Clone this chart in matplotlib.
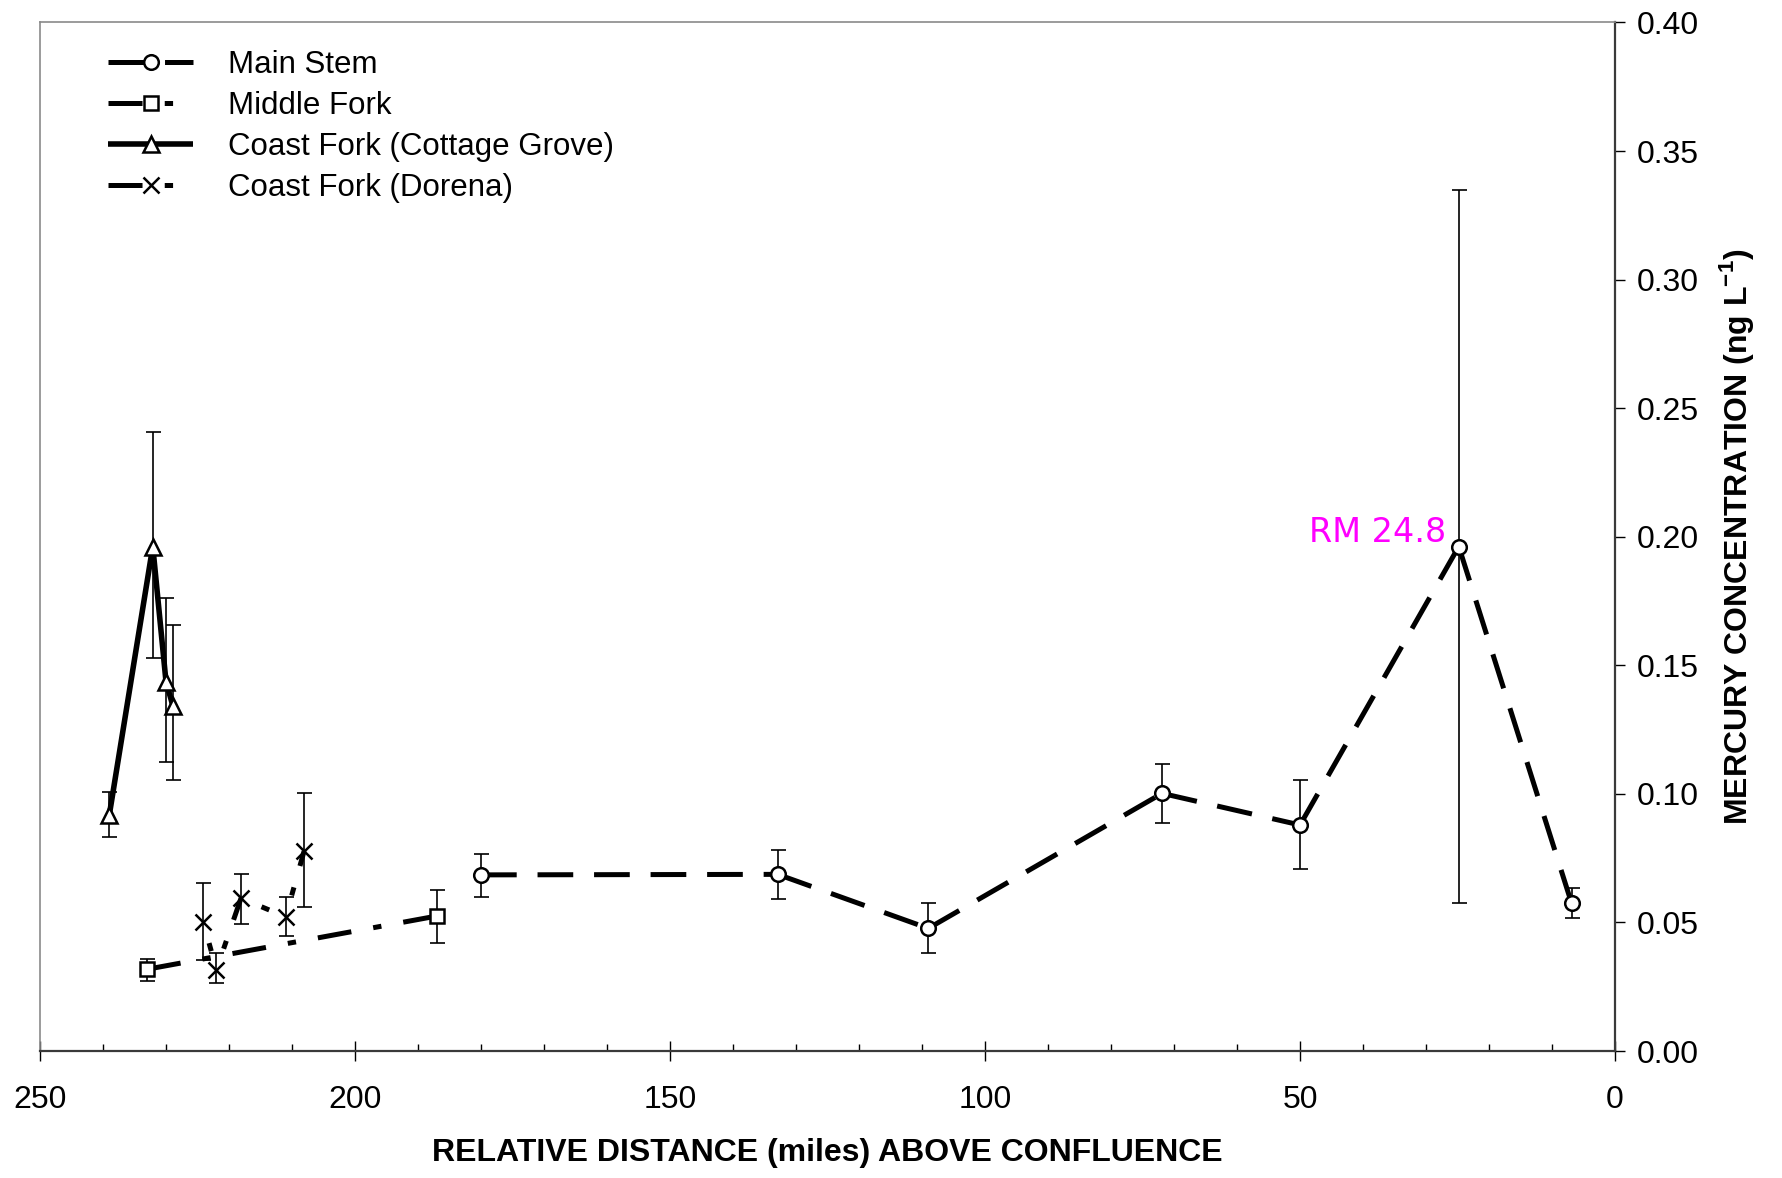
import matplotlib
matplotlib.use('Agg')
import matplotlib.pyplot as plt
from matplotlib.lines import Line2D
from matplotlib.ticker import FormatStrFormatter, FixedLocator
import numpy as np

plt.rcParams['font.family'] = ['Liberation Sans', 'DejaVu Sans']
plt.rcParams['mathtext.fontset'] = 'custom'
plt.rcParams['mathtext.rm'] = 'Liberation Sans'
plt.rcParams['mathtext.bf'] = 'Liberation Sans:bold'
plt.rcParams['lines.scale_dashes'] = False

# ---------------- data ----------------
main_x = [180.0, 132.9, 109.0, 71.9, 50.0, 24.8, 6.9]
main_y = [0.0685, 0.0687, 0.0477, 0.1002, 0.0879, 0.1962, 0.0575]
main_lo = [0.0598, 0.0593, 0.0380, 0.0888, 0.0707, 0.0574, 0.0516]
main_hi = [0.0766, 0.0782, 0.0574, 0.1115, 0.1054, 0.3350, 0.0633]

mid_x = [233.0, 187.0]
mid_y = [0.0318, 0.0525]
mid_lo = [0.0273, 0.0419]
mid_hi = [0.0358, 0.0626]

cg_x = [239.0, 232.1, 230.0, 228.9]
cg_y = [0.0918, 0.1962, 0.1436, 0.1342]
cg_lo = [0.0834, 0.1527, 0.1125, 0.1054]
cg_hi = [0.1009, 0.2409, 0.1761, 0.1657]

dor_x = [224.1, 222.0, 218.1, 211.0, 208.1]
dor_y = [0.0503, 0.0316, 0.0594, 0.0522, 0.0776]
dor_lo = [0.0355, 0.0266, 0.0494, 0.0448, 0.0561]
dor_hi = [0.0655, 0.0383, 0.0688, 0.0600, 0.1004]

series_names = ['Main Stem', 'Middle Fork', 'Coast Fork (Cottage Grove)', 'Coast Fork (Dorena)']
annot_text = 'RM 24.8'
annot_index = 5

x_major = [250, 200, 150, 100, 50, 0]
y_major = [0.00, 0.05, 0.10, 0.15, 0.20, 0.25, 0.30, 0.35, 0.40]

# ---------------- styles ----------------
LONG = (0, (25.7, 15))
DASHDOT = (0, (24.5, 16, 6, 16))
DASHDOT_OFF = (24.5, (24.5, 16, 6, 16))
styles = [
    dict(marker='o', ms=10.5, ls=LONG, lw=3.6, mew=1.8, leg_ls=LONG),
    dict(marker='s', ms=10.0, ls=DASHDOT, lw=3.6, mew=1.8, leg_ls=DASHDOT),
    dict(marker='^', ms=11.0, ls='-', lw=4.0, mew=1.8, leg_ls='-'),
    dict(marker='x', ms=12.0, ls=DASHDOT_OFF, lw=3.6, mew=1.8, leg_ls=DASHDOT),
]
data = [
    (main_x, main_y, main_lo, main_hi),
    (mid_x, mid_y, mid_lo, mid_hi),
    (cg_x, cg_y, cg_lo, cg_hi),
    (dor_x, dor_y, dor_lo, dor_hi),
]

FS_TICK = 23
FS_LEG = 22.5
FS_LAB = 23

fig = plt.figure(figsize=(17.82, 11.78), dpi=100)
L, R, B, T = 0.02245, 0.9063, 0.1078, 0.9809
ax = fig.add_axes([L, B, R - L, T - B])


def draw(x, y, lo, hi, st):
    x = np.asarray(x, float)
    y = np.asarray(y, float)
    lo = np.asarray(lo, float)
    hi = np.asarray(hi, float)
    ax.errorbar(x, y, yerr=[y - lo, hi - y], fmt='none', ecolor='black',
                elinewidth=1.2, capsize=5.4, capthick=1.2, zorder=2)
    for i in range(len(x) - 1):
        ax.plot(x[i:i + 2], y[i:i + 2], color='black', lw=st['lw'], linestyle=st['ls'],
                solid_capstyle='butt', dash_capstyle='butt', zorder=3)
    ax.plot(x, y, linestyle='none', marker=st['marker'], ms=st['ms'],
            mfc='white', mec='black', mew=st['mew'], zorder=4)


for d, st in zip(data, styles):
    draw(*d, st)

ax.set_xlim(250, 0)
ax.set_ylim(0, 0.40)
ax.yaxis.tick_right()
ax.yaxis.set_label_position('right')
ax.set_xticks(x_major)
ax.set_xticklabels([str(v) for v in x_major])
ax.xaxis.set_minor_locator(FixedLocator(np.arange(0, 251, 10)))
ax.set_yticks(y_major)
ax.yaxis.set_major_formatter(FormatStrFormatter('%.2f'))

ax.tick_params(axis='x', which='major', direction='inout', length=14, width=1.0,
               labelsize=FS_TICK, pad=17.5, color='black')
ax.tick_params(axis='x', which='minor', direction='in', length=5, width=1.0, color='black')
ax.tick_params(axis='y', which='major', direction='out', length=7, width=1.0,
               labelsize=FS_TICK, pad=9, color='black')

for s in ['top', 'left']:
    ax.spines[s].set_color('#8a8a8a')
    ax.spines[s].set_linewidth(1.2)
for s in ['bottom', 'right']:
    ax.spines[s].set_color('#3a3a3a')
    ax.spines[s].set_linewidth(1.6)

ax.set_xlabel('RELATIVE DISTANCE (miles) ABOVE CONFLUENCE', fontsize=FS_LAB, fontweight='bold')
ax.xaxis.set_label_coords(0.5, -0.085)
ax.set_ylabel(r'MERCURY CONCENTRATION (ng L$^{\mathbf{-1}}$)', fontsize=FS_LAB, fontweight='bold')
ax.yaxis.set_label_coords(1.065, 0.5)

ax.annotate(annot_text, xy=(main_x[annot_index], main_y[annot_index]), xytext=(-9, 3.6),
            textcoords='offset points', ha='right', va='baseline', color='#FF00FF',
            fontsize=24, family='DejaVu Sans', zorder=5)

handles = []
for st in styles:
    handles.append(Line2D([], [], color='black', lw=st['lw'], linestyle=st['leg_ls'],
                          dash_capstyle='butt', solid_capstyle='butt',
                          marker=st['marker'], ms=st['ms'], mfc='white', mec='black', mew=st['mew']))
ax.legend(handles, series_names, loc='upper left', bbox_to_anchor=(0.0432, 0.9736),
          frameon=False, fontsize=FS_LEG, handlelength=2.72, handletextpad=1.12,
          labelspacing=0.36, borderpad=0, borderaxespad=0)

fig.savefig('out.png', dpi=100)
